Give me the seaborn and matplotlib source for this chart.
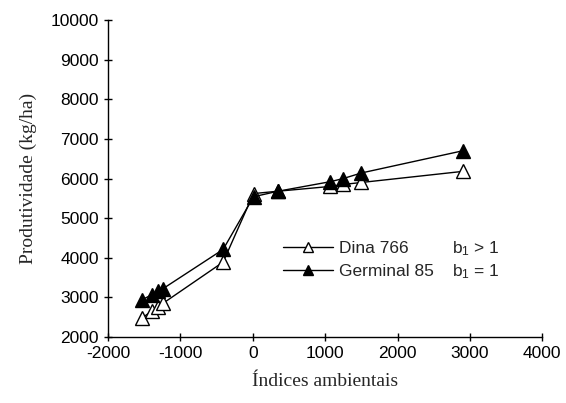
import matplotlib
matplotlib.use("Agg")
import matplotlib.pyplot as plt
import seaborn as sns
import pandas as pd
from matplotlib.lines import Line2D

# data
indices = [-1530, -1390, -1310, -1240, -410, 10, 350, 1070, 1250, 1500, 2900]
dina_766 = [2480, 2660, 2760, 2850, 3890, 5620, 5680, 5800, 5850, 5900, 6180]
germinal_85 = [2940, 3070, 3160, 3220, 4210, 5540, 5680, 5920, 6000, 6140, 6700]

df = pd.DataFrame({
    "indice": indices * 2,
    "prod": dina_766 + germinal_85,
    "cultivar": ["Dina 766"] * len(indices) + ["Germinal 85"] * len(indices),
})

sns.set_style("ticks")
plt.rcParams["font.family"] = ["Liberation Sans", "DejaVu Sans"]
plt.rcParams["axes.unicode_minus"] = False

fig = plt.figure(figsize=(5.66, 4.03), dpi=100)
ax = fig.add_axes([0.191, 0.164, 0.767, 0.786])

# open triangles first, then filled
d = df[df.cultivar == "Dina 766"]
sns.lineplot(data=d, x="indice", y="prod", ax=ax, color="black", lw=1,
             marker="^", markersize=10.5, markerfacecolor="white",
             markeredgecolor="black", markeredgewidth=1, sort=False)
g = df[df.cultivar == "Germinal 85"]
sns.lineplot(data=g, x="indice", y="prod", ax=ax, color="black", lw=1,
             marker="^", markersize=10.5, markerfacecolor="black",
             markeredgecolor="black", markeredgewidth=1, sort=False)

ax.set_xlim(-2000, 4000)
ax.set_ylim(2000, 10000)
ax.set_xticks(range(-2000, 4001, 1000))
ax.set_yticks(range(2000, 10001, 1000))
ax.tick_params(direction="inout", length=6, width=1, labelsize=12.5, colors="black")
sns.despine(ax=ax)
for s in ["left", "bottom"]:
    ax.spines[s].set_color("black")
    ax.spines[s].set_linewidth(1)

ax.set_xlabel("Índices ambientais", family=["Liberation Serif"], fontsize=14, labelpad=9)
ax.set_ylabel("Produtividade (kg/ha)", family=["Liberation Serif"], fontsize=14, labelpad=10)

handles = [
    Line2D([], [], color="black", lw=1, marker="^", markersize=7,
           markerfacecolor="white", markeredgecolor="black"),
    Line2D([], [], color="black", lw=1, marker="^", markersize=7,
           markerfacecolor="black", markeredgecolor="black"),
]
ax.legend(handles, ["Dina 766", "Germinal 85"], loc="upper left",
          bbox_to_anchor=(0.403, 0.302), frameon=False, fontsize=12.5,
          handlelength=2.9, handletextpad=0.3, borderpad=0, borderaxespad=0,
          labelspacing=0.45)
ax.text(0.793, 0.278, r"$\mathregular{b_1}$ > 1", transform=ax.transAxes,
        fontsize=12.5, va="center")
ax.text(0.793, 0.205, r"$\mathregular{b_1}$ = 1", transform=ax.transAxes,
        fontsize=12.5, va="center")

fig.savefig("out.png", dpi=100)
